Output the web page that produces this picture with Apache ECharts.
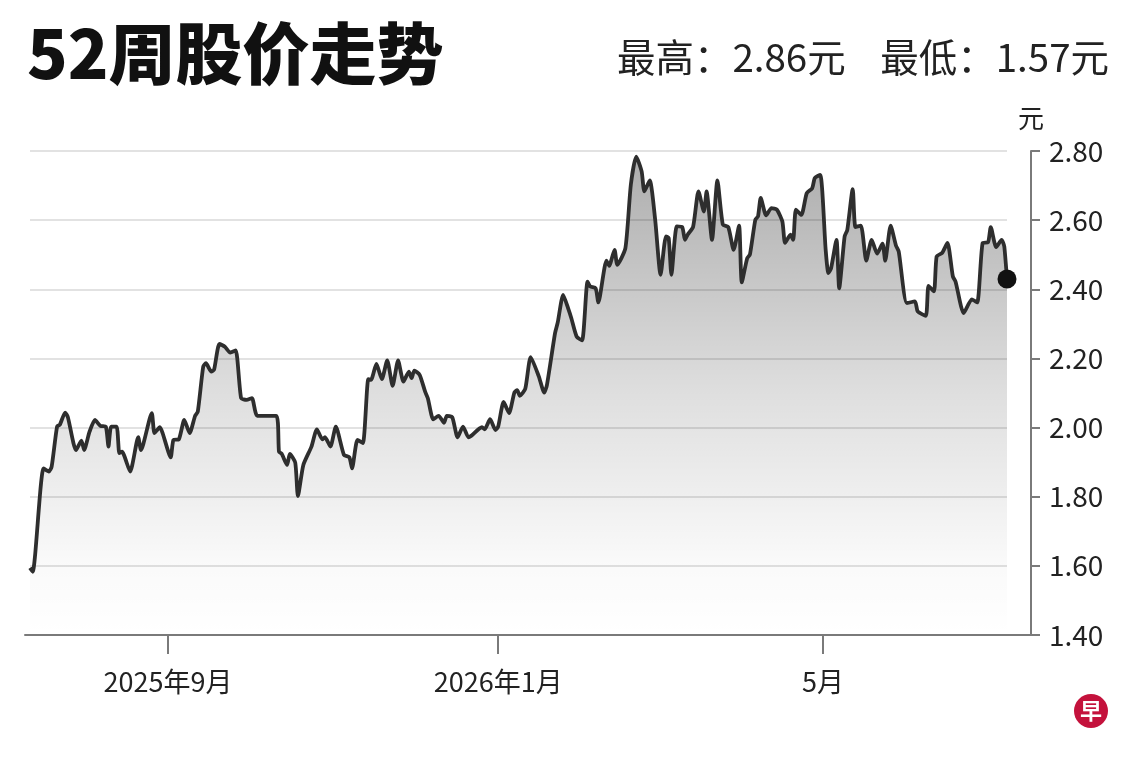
<!DOCTYPE html>
<html>
<head>
<meta charset="utf-8">
<script src="https://cdn.jsdelivr.net/npm/echarts@6/dist/echarts.min.js"></script>
<style>
  html, body { margin: 0; padding: 0; background: #fff; }
  #chart { width: 1140px; height: 760px; }
</style>
</head>
<body>
<div id="chart"></div>
<script>
// 交易日期 (读图估计的拐点)
const dates = [
  "2025-07-12","2025-07-13","2025-07-17","2025-07-19","2025-07-20","2025-07-22","2025-07-23","2025-07-25","2025-07-26","2025-07-29","2025-07-31",
  "2025-08-01","2025-08-03","2025-08-05","2025-08-07","2025-08-09","2025-08-10","2025-08-11","2025-08-13","2025-08-14","2025-08-15","2025-08-18","2025-08-21","2025-08-22","2025-08-26","2025-08-27","2025-08-29","2025-08-30",
  "2025-09-02","2025-09-03","2025-09-05","2025-09-07","2025-09-09","2025-09-11","2025-09-12","2025-09-14","2025-09-15","2025-09-17","2025-09-18","2025-09-20","2025-09-22","2025-09-24","2025-09-26","2025-09-28","2025-09-30",
  "2025-10-02","2025-10-04","2025-10-11","2025-10-12","2025-10-13","2025-10-15","2025-10-16","2025-10-18","2025-10-19","2025-10-21","2025-10-24","2025-10-26","2025-10-28","2025-10-29","2025-10-31",
  "2025-11-02","2025-11-05","2025-11-07","2025-11-08","2025-11-10","2025-11-12","2025-11-14","2025-11-15","2025-11-17","2025-11-19","2025-11-21","2025-11-23","2025-11-25","2025-11-27","2025-11-29","2025-11-30",
  "2025-12-01","2025-12-03","2025-12-05","2025-12-06","2025-12-08","2025-12-10","2025-12-12","2025-12-13","2025-12-15","2025-12-17","2025-12-19","2025-12-21","2025-12-22","2025-12-26","2025-12-27","2025-12-29","2025-12-31",
  "2026-01-01","2026-01-03","2026-01-05","2026-01-07","2026-01-08","2026-01-09","2026-01-11","2026-01-13","2026-01-16","2026-01-18","2026-01-19","2026-01-22","2026-01-23","2026-01-25","2026-01-27","2026-01-28","2026-01-30",
  "2026-02-01","2026-02-03","2026-02-04","2026-02-06","2026-02-07","2026-02-10","2026-02-11","2026-02-13","2026-02-14","2026-02-17","2026-02-19","2026-02-21","2026-02-23","2026-02-24","2026-02-26","2026-02-28",
  "2026-03-02","2026-03-04","2026-03-05","2026-03-06","2026-03-08","2026-03-10","2026-03-11","2026-03-12","2026-03-14","2026-03-16","2026-03-18","2026-03-19","2026-03-21","2026-03-23","2026-03-25","2026-03-27","2026-03-29","2026-03-31",
  "2026-04-01","2026-04-03","2026-04-04","2026-04-06","2026-04-07","2026-04-08","2026-04-10","2026-04-12","2026-04-14","2026-04-16","2026-04-17","2026-04-19","2026-04-20","2026-04-21","2026-04-23","2026-04-25","2026-04-27","2026-04-28","2026-04-30",
  "2026-05-02","2026-05-03","2026-05-04","2026-05-06","2026-05-07","2026-05-09","2026-05-10","2026-05-12","2026-05-13","2026-05-15","2026-05-17","2026-05-19","2026-05-21","2026-05-23","2026-05-24","2026-05-26","2026-05-28","2026-05-29",
  "2026-06-01","2026-06-04","2026-06-05","2026-06-08","2026-06-09","2026-06-11","2026-06-12","2026-06-14","2026-06-16","2026-06-18","2026-06-19","2026-06-22","2026-06-25","2026-06-27","2026-06-29",
  "2026-07-01","2026-07-02","2026-07-04","2026-07-06","2026-07-07","2026-07-08"
];

// 收盘价 (元)
const prices = [
  1.594,1.583,1.882,1.873,1.887,2.003,2.008,2.043,2.030,1.935,1.962,
  1.935,1.988,2.022,2.005,2.003,1.945,2.003,2.003,1.926,1.930,1.873,1.972,1.935,2.042,1.984,2.001,1.984,
  1.914,1.964,1.966,2.022,1.984,2.034,2.046,2.176,2.186,2.162,2.167,2.242,2.234,2.217,2.223,2.085,2.080,
  2.085,2.034,2.034,1.930,1.924,1.892,1.924,1.899,1.802,1.892,1.945,1.995,1.966,1.972,1.945,
  2.003,1.921,1.914,1.882,1.964,1.955,2.140,2.138,2.184,2.140,2.194,2.121,2.194,2.133,2.162,2.143,
  2.165,2.152,2.104,2.085,2.024,2.034,2.014,2.034,2.030,1.972,2.003,1.972,1.976,2.001,1.995,2.024,1.993,
  2.003,2.074,2.042,2.102,2.108,2.092,2.112,2.204,2.148,2.101,2.123,2.273,2.304,2.384,2.341,2.317,2.263,
  2.252,2.422,2.408,2.403,2.362,2.483,2.468,2.514,2.471,2.519,2.702,2.784,2.741,2.683,2.715,2.601,
  2.442,2.553,2.548,2.442,2.582,2.580,2.543,2.558,2.580,2.683,2.625,2.683,2.543,2.715,2.587,2.580,2.514,2.584,
  2.420,2.490,2.500,2.601,2.611,2.664,2.614,2.635,2.630,2.596,2.534,2.558,2.543,2.630,2.615,2.678,2.692,2.722,2.731,
  2.514,2.447,2.461,2.543,2.403,2.553,2.572,2.690,2.580,2.584,2.483,2.543,2.503,2.532,2.483,2.584,2.526,2.509,
  2.360,2.365,2.336,2.323,2.410,2.394,2.495,2.505,2.534,2.437,2.422,2.331,2.371,2.362,2.534,
  2.536,2.580,2.522,2.543,2.524,2.430
];

// 坐标轴刻度
const xTickDates = ["2025-09-01", "2026-01-01", "2026-05-01"];
const xTickLabels = ["2025年9月", "2026年1月", "5月"];
const yMin = 1.4, yMax = 2.8, yStep = 0.2;

const FONT = '"Noto Sans CJK SC", "Noto Sans", sans-serif';

function ts(s) {
  const p = s.split("-").map(Number);
  return Date.UTC(p[0], p[1] - 1, p[2]);
}

// 画布布局 (像素)
const plotLeft = 30, plotRight = 1007, axisLeft = 25, axisRight = 1031;
const plotTop = 151, plotBottom = 635;

const t0 = ts(dates[0]);
const t1 = ts(dates[dates.length - 1]);
const msPerPx = (t1 - t0) / (plotRight - plotLeft);
const axisMin = t0 - (plotLeft - axisLeft) * msPerPx;
const axisMax = t1 + (axisRight - plotRight) * msPerPx;

const lineData = dates.map((d, i) => [ts(d), prices[i]]);
const lastPoint = lineData[lineData.length - 1];
const tickValues = xTickDates.map(ts);

const myChart = echarts.init(document.getElementById("chart"));

const option = {
  backgroundColor: "#ffffff",
  animation: false,
  title: [
    {
      text: "52周股价走势",
      left: 22,
      top: 15,
      textStyle: { fontFamily: FONT, fontSize: 67, fontWeight: 900, color: "#111" }
    },
    {
      text: "最高：2.86元    最低：1.57元",
      right: 26,
      top: 33,
      textStyle: { fontFamily: FONT, fontSize: 38.5, fontWeight: "normal", color: "#222" }
    }
  ],
  grid: [
    { left: plotLeft, right: 1140 - plotRight, top: plotTop, bottom: 760 - plotBottom },
    { left: axisLeft, right: 1140 - axisRight, top: plotTop, bottom: 760 - plotBottom }
  ],
  xAxis: [
    { type: "time", gridIndex: 0, min: t0, max: t1, show: false },
    {
      // 时间戳数值轴, 只用于画底部坐标轴线和月份刻度
      type: "value",
      gridIndex: 1,
      min: axisMin,
      max: axisMax,
      axisLine: { lineStyle: { color: "#7a7a7a", width: 2 } },
      axisTick: { show: true, length: 19, customValues: tickValues, lineStyle: { color: "#7a7a7a", width: 2 } },
      axisLabel: {
        customValues: tickValues,
        margin: 33,
        fontFamily: FONT,
        fontSize: 27,
        color: "#222",
        formatter: function (v) {
          const i = tickValues.indexOf(v);
          return i >= 0 ? xTickLabels[i] : "";
        }
      },
      splitLine: { show: false }
    }
  ],
  yAxis: [
    {
      type: "value",
      gridIndex: 0,
      min: yMin,
      max: yMax,
      interval: yStep,
      axisLine: { show: false },
      axisTick: { show: false },
      axisLabel: { show: false },
      splitLine: { lineStyle: { color: "#e2e2e2", width: 2 } }
    },
    {
      type: "value",
      gridIndex: 1,
      position: "right",
      min: yMin,
      max: yMax,
      interval: yStep,
      name: "元",
      nameLocation: "end",
      nameGap: 20,
      nameTextStyle: { fontFamily: FONT, fontSize: 26, color: "#222", align: "center" },
      axisLine: { show: true, lineStyle: { color: "#7a7a7a", width: 2 } },
      axisTick: { show: true, length: 9, lineStyle: { color: "#7a7a7a", width: 2 } },
      axisLabel: {
        margin: 18,
        fontFamily: FONT,
        fontSize: 28,
        color: "#222",
        formatter: function (v) { return v.toFixed(2); }
      },
      splitLine: { show: false }
    }
  ],
  series: [
    {
      type: "line",
      xAxisIndex: 0,
      yAxisIndex: 0,
      data: lineData,
      smooth: 0.2,
      showSymbol: false,
      lineStyle: { color: "#2e2e2e", width: 3.8 },
      areaStyle: {
        color: new echarts.graphic.LinearGradient(0, 0, 0, 1, [
          { offset: 0, color: "rgba(0,0,0,0.46)" },
          { offset: 0.5, color: "rgba(0,0,0,0.18)" },
          { offset: 0.85, color: "rgba(0,0,0,0.03)" },
          { offset: 1, color: "rgba(0,0,0,0.0)" }
        ])
      },
      z: 3
    },
    {
      type: "scatter",
      xAxisIndex: 0,
      yAxisIndex: 0,
      data: [lastPoint],
      symbolSize: 19,
      itemStyle: { color: "#111", opacity: 1 },
      z: 5
    }
  ],
  graphic: [
    {
      type: "group",
      right: 32,
      top: 694,
      children: [
        { type: "circle", shape: { cx: 17, cy: 17, r: 17 }, style: { fill: "#c4123c" } },
        {
          type: "text",
          x: 17,
          y: 17,
          style: { text: "早", fill: "#fff", font: "bold 22px " + FONT, textAlign: "center", textVerticalAlign: "middle" }
        }
      ]
    }
  ]
};

myChart.setOption(option);
</script>
</body>
</html>
